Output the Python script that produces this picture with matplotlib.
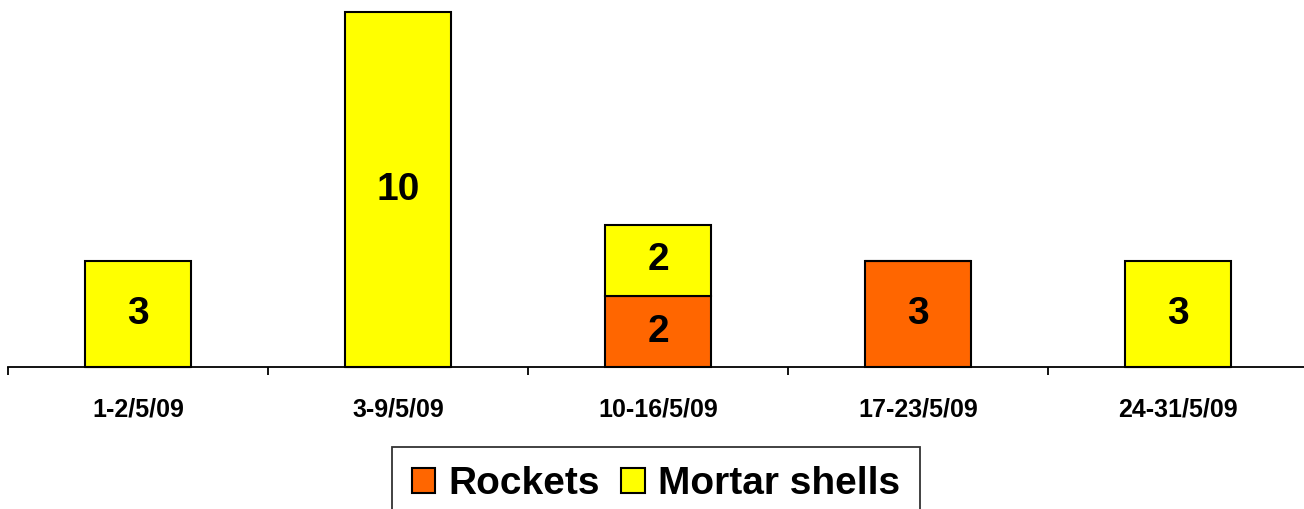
import matplotlib.pyplot as plt
import numpy as np

weeks = ["1-2/5/09", "3-9/5/09", "10-16/5/09", "17-23/5/09", "24-31/5/09"]
rockets = [0, 0, 2, 3, 0]
mortars = [3, 10, 2, 0, 3]

plt.rcParams['font.family'] = ['Liberation Sans', 'DejaVu Sans']

fig = plt.figure(figsize=(13.04, 5.09), dpi=100)
ax = fig.add_axes([8 / 1304, (509 - 367) / 509, 1300 / 1304, 355 / 509])

x = np.arange(len(weeks))
width = 0.41
b1 = ax.bar(x, rockets, width, color="#FF6600", edgecolor="black",
            linewidth=1.5, label="Rockets", clip_on=False)
b2 = ax.bar(x, mortars, width, bottom=rockets, color="#FFFF00",
            edgecolor="black", linewidth=1.5, label="Mortar shells", clip_on=False)

# value labels in the middle of each segment
for i in range(len(weeks)):
    if rockets[i] > 0:
        ax.text(x[i], rockets[i] / 2, str(rockets[i]), ha="center", va="center",
                fontsize=28, fontweight="bold")
    if mortars[i] > 0:
        ax.text(x[i], rockets[i] + mortars[i] / 2, str(mortars[i]), ha="center",
                va="center", fontsize=28, fontweight="bold")

ax.set_xlim(-0.5, 4.5)
ax.set_ylim(0, 10)
ax.set_yticks([])
for side in ["left", "right", "top"]:
    ax.spines[side].set_visible(False)
ax.spines["bottom"].set_linewidth(1.3)

ax.set_xticks(x)
ax.set_xticklabels(weeks, fontsize=18, fontweight="bold")
ax.tick_params(axis="x", which="major", length=0, pad=22)
ax.set_xticks(np.arange(-0.5, 5.0, 1.0), minor=True)
ax.tick_params(axis="x", which="minor", length=6, width=1.3, direction="out")

leg = fig.legend(handles=[b1, b2], loc="upper center",
                 bbox_to_anchor=(656 / 1304, 1 - 447 / 509), ncol=2,
                 prop={"weight": "bold", "size": 28},
                 frameon=True, fancybox=False, edgecolor="black",
                 handlelength=0.6, handleheight=0.6, handletextpad=0.35,
                 columnspacing=0.55, borderpad=0.5, borderaxespad=0)
leg.get_frame().set_linewidth(1.3)

fig.savefig("out.png", dpi=100)
